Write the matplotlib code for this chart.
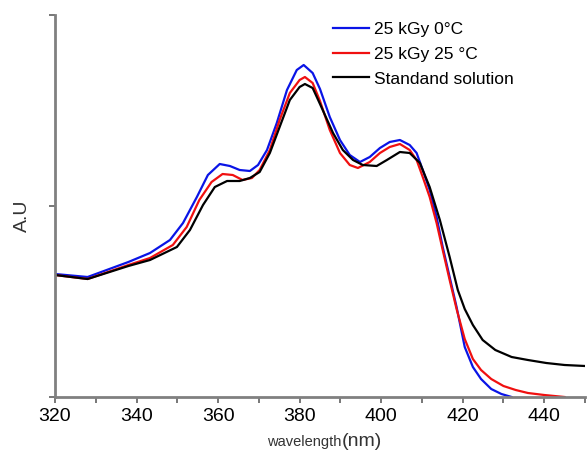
import matplotlib
matplotlib.use("Agg")
from matplotlib import pyplot as plt
from matplotlib.ticker import MultipleLocator

plt.rcParams['font.family'] = ['Liberation Sans', 'DejaVu Sans']

# absorbance spectra (arbitrary units)
blue_x = [320, 328, 338, 343.3, 348.2, 351.4, 354.8, 357.5, 360.4, 362.9, 365.3, 367.8, 369.8,
          372, 374.4, 376.9, 379.3, 381, 383.2, 385, 387.4, 389.9, 392.3, 394.8, 397.2, 399.7,
          402.1, 404.6, 407, 408.7, 410.2, 411.9, 413.6, 415.1, 416.8, 418.5, 420.5, 422.5,
          424.5, 427, 429.5, 432]
blue_y = [123, 120, 135, 144, 157, 174, 200, 222, 233, 231, 227, 226, 232,
          247, 274, 307, 327, 332, 324, 308, 280, 257, 242, 235, 240, 249,
          255, 257, 252, 244, 227, 207, 180, 150, 120, 90, 50, 30,
          18, 8, 3, 0]

red_x = [320, 328, 338, 343.3, 348.9, 352.3, 355.4, 358.4, 361.1, 363.6, 366, 368.3, 370.2,
         372.7, 375.1, 377.6, 380, 381.3, 383.2, 385, 387.4, 389.9, 392.3, 394.3, 397.2, 399.7,
         402.1, 404.6, 407, 408.7, 410.2, 411.9, 413.6, 415.1, 416.8, 418.5, 420.5, 422.5,
         424.5, 427, 430, 433, 436, 440, 445]
red_y = [122, 118, 132, 139, 152, 170, 197, 215, 223, 222, 217, 219, 227,
         247, 277, 304, 317, 320, 314, 296, 267, 244, 232, 229, 235, 244,
         250, 253, 247, 237, 220, 200, 174, 147, 117, 88, 58, 38,
         27, 18, 11, 7, 4, 2, 0]

black_x = [320, 328, 338, 343.3, 349.9, 353.1, 356.3, 359.2, 362.2, 365.3, 367.8, 370.2,
           372.7, 375.1, 377.6, 380, 381.3, 383.2, 385, 388.2, 390.6, 393.1, 395.5, 398.9,
           401.4, 404.6, 407, 409.5, 411.9, 414.4, 416.8, 418.8, 420.5, 422.5, 424.9, 428,
           432, 436, 440.5, 445, 450]
black_y = [122, 118, 131, 137, 150, 167, 192, 210, 216, 216, 219, 225,
           244, 270, 297, 310, 313, 309, 293, 264, 247, 237, 232, 231,
           237, 245, 244, 234, 210, 177, 140, 107, 88, 72, 57, 47,
           40, 37, 34, 32, 31]

labels = ["25 kGy 0°C", "25 kGy 25 °C", "Standand solution"]

fig = plt.figure(figsize=(5.87, 4.54), dpi=100)
ax = fig.add_axes([55/587, 57/454, 530/587, 382/454])

ax.plot(blue_x, blue_y, color="#0a14e6", lw=1.6, label=labels[0])
ax.plot(red_x, red_y, color="#f01010", lw=1.6, label=labels[1])
ax.plot(black_x, black_y, color="black", lw=1.6, label=labels[2])

ax.set_xlim(320, 450)
ax.set_ylim(0, 382)
ax.xaxis.set_minor_locator(MultipleLocator(10))
ax.set_xticks([320, 340, 360, 380, 400, 420, 440])
ax.set_yticks([0, 191, 382])
ax.set_yticklabels([])

for s in ["top", "right"]:
    ax.spines[s].set_visible(False)
for s in ["left", "bottom"]:
    ax.spines[s].set_color("#808080")
    ax.spines[s].set_linewidth(2)

ax.tick_params(axis="x", which="both", direction="out", length=4, width=1.2,
               color="#606060", labelsize=14, pad=4)
ax.tick_params(axis="y", which="both", direction="out", length=4, width=1.2, color="#606060")

fig.text(22/587, 1 - 216/454, "A.U", rotation=90, fontsize=14, ha="center", va="center",
         color="#333333")
fig.text(341/587, 1 - 446/454, "wavelength", fontsize=10.5, ha="right", va="baseline",
         color="#333333")
fig.text(342/587, 1 - 446/454, "(nm)", fontsize=14, ha="left", va="baseline",
         color="#333333")

ax.legend(loc="upper left", bbox_to_anchor=(333/587, 1 - 22/454), bbox_transform=fig.transFigure,
          frameon=False, fontsize=12.5, handlelength=2.1, handletextpad=0.25,
          labelspacing=0.55, borderpad=0, borderaxespad=0)

fig.savefig("out.png", dpi=100)
